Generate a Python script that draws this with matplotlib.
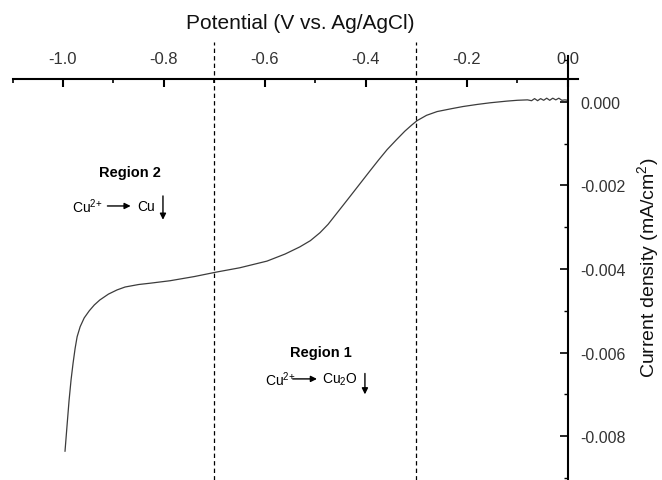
import matplotlib
matplotlib.use("Agg")
import matplotlib.pyplot as plt
from matplotlib.ticker import MultipleLocator, FormatStrFormatter

plt.rcParams['font.family'] = ['Liberation Sans', 'DejaVu Sans']
plt.rcParams['axes.unicode_minus'] = False
plt.rcParams['mathtext.fontset'] = 'custom'
plt.rcParams['mathtext.rm'] = 'Liberation Sans'
plt.rcParams['mathtext.it'] = 'Liberation Sans:italic'
plt.rcParams['mathtext.bf'] = 'Liberation Sans:bold'

# ---- data ----
potential = [-0.996, -0.992, -0.988, -0.984, -0.980, -0.976, -0.972, -0.966,
             -0.958, -0.948, -0.938, -0.927, -0.910, -0.893, -0.877, -0.850,
             -0.828, -0.788, -0.740, -0.695, -0.650, -0.596, -0.560, -0.531,
             -0.510, -0.491, -0.475, -0.460, -0.445, -0.432, -0.412, -0.392,
             -0.375, -0.358, -0.340, -0.323, -0.310, -0.299, -0.280, -0.259,
             -0.230, -0.208, -0.180, -0.154, -0.121, -0.100, -0.080,
             -0.072, -0.066, -0.060, -0.054, -0.048, -0.042, -0.036, -0.030,
             -0.024, -0.018, -0.012, -0.006, 0.000]
current = [-0.00836, -0.00775, -0.00715, -0.00665, -0.00625, -0.00590, -0.00562, -0.00538,
           -0.00517, -0.00500, -0.00486, -0.00474, -0.00460, -0.00450, -0.00443, -0.00437,
           -0.00434, -0.00428, -0.00418, -0.00407, -0.00397, -0.00381, -0.00364, -0.00347,
           -0.00332, -0.00313, -0.00293, -0.00270, -0.00247, -0.00227, -0.00196, -0.00165,
           -0.00139, -0.00114, -0.00091, -0.00070, -0.00056, -0.00045, -0.00032, -0.00023,
           -0.00016, -0.00011, -0.00006, -0.00002, 0.00002, 0.00004, 0.00005,
           0.00003, 0.00008, 0.00003, 0.00008, 0.00004, 0.00009, 0.00004, 0.00009,
           0.00005, 0.00009, 0.00004, 0.00005, 0.00004]
region_bounds = [-0.7, -0.3]
x_major = [-1.0, -0.8, -0.6, -0.4, -0.2, 0.0]
y_major = [0.000, -0.002, -0.004, -0.006, -0.008]

fig = plt.figure(figsize=(6.62, 4.81), dpi=100)
ax = fig.add_axes([12.5 / 662, 0.0, 565.5 / 662, 424 / 481])
ax.set_xlim(-1.1, 0.02)
ax.set_ylim(-0.00905, 0.0011)

ax.plot(potential, current, color='#3c3c3c', lw=0.9)

for xb in region_bounds:
    ax.plot([xb, xb], [-0.00905, 0.00144], color='black', lw=0.9,
            dashes=(3.5, 2.5), clip_on=False)

# axes crossing like Origin
for s in ['left', 'bottom']:
    ax.spines[s].set_visible(False)
ax.spines['top'].set_position(('data', 0.00055))
ax.spines['right'].set_position(('data', 0.0))
for s in ['top', 'right']:
    ax.spines[s].set_linewidth(1.5)

ax.xaxis.tick_top()
ax.yaxis.tick_right()
ax.set_xticks(x_major)
ax.xaxis.set_minor_locator(MultipleLocator(0.1))
ax.xaxis.set_major_formatter(FormatStrFormatter('%.1f'))
ax.set_yticks(y_major)
ax.yaxis.set_minor_locator(MultipleLocator(0.001))
ax.yaxis.set_major_formatter(FormatStrFormatter('%.3f'))
ax.tick_params(axis='x', which='major', direction='in', length=6, width=1.5,
               pad=9, labelsize=12, labelcolor='#333333')
ax.tick_params(axis='x', which='minor', direction='in', length=3, width=1.2)
ax.tick_params(axis='y', which='major', direction='in', length=6, width=1.2,
               pad=9, labelsize=11.5, labelcolor='#333333')
ax.tick_params(axis='y', which='minor', direction='in', length=3, width=1.0)

ax.set_xlabel('Potential (V vs. Ag/AgCl)', fontsize=15, color='#111111')
ax.xaxis.set_label_position('top')
ax.xaxis.set_label_coords(0.508, 1.080)
ax.xaxis.label.set_va('center')
ax.set_ylabel('Current density (mA/cm$^2$)', fontsize=14, rotation=90, color='#111111')
ax.yaxis.set_label_position('right')
ax.yaxis.set_label_coords(1.124, 0.502)
ax.yaxis.label.set_va('center')

arrow_kw = dict(arrowstyle='-|>', color='black', lw=1.0, mutation_scale=9,
                shrinkA=0, shrinkB=0)

# Region 2
ax.text(-0.867, -0.00168, 'Region 2', fontsize=10.5, fontweight='bold',
        ha='center', va='center')
ax.text(-0.982, -0.00249, 'Cu$^{2{+}}$', fontsize=10, ha='left', va='center')
ax.annotate('', xy=(-0.866, -0.00249), xytext=(-0.912, -0.00249), arrowprops=arrow_kw)
ax.text(-0.853, -0.00249, 'Cu', fontsize=10, ha='left', va='center')
ax.annotate('', xy=(-0.802, -0.00282), xytext=(-0.802, -0.00225), arrowprops=arrow_kw)

# Region 1
ax.text(-0.489, -0.00599, 'Region 1', fontsize=10.5, fontweight='bold',
        ha='center', va='center')
ax.text(-0.600, -0.00663, 'Cu$^{2{+}}$', fontsize=10, ha='left', va='center')
ax.annotate('', xy=(-0.497, -0.00663), xytext=(-0.545, -0.00663), arrowprops=arrow_kw)
ax.text(-0.487, -0.00663, 'Cu$_2$O', fontsize=10, ha='left', va='center')
ax.annotate('', xy=(-0.402, -0.00700), xytext=(-0.402, -0.00650), arrowprops=arrow_kw)

fig.savefig('out.png', dpi=100)
